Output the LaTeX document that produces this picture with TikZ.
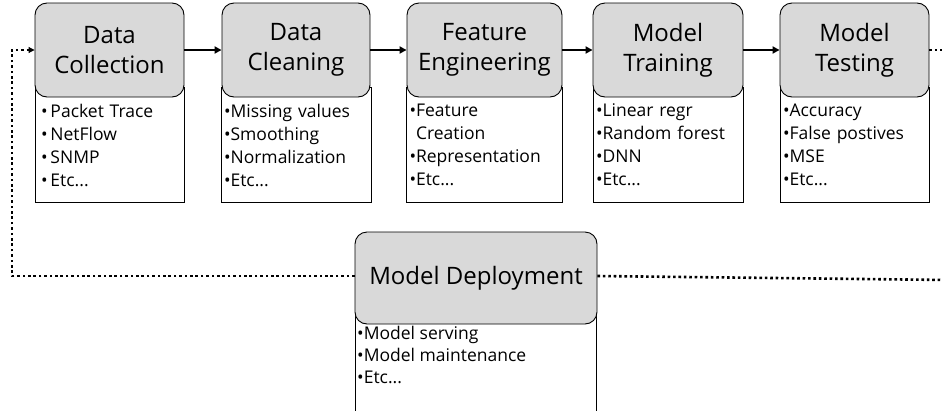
\documentclass[tikz,border=0pt]{standalone}
\usepackage{fontspec}
\setmainfont{Open Sans}
\usetikzlibrary{arrows.meta}
\begin{document}
\begin{tikzpicture}[x=1pt,y=-1pt,
  title/.style={draw=black,line width=0.9pt,fill=gray!30,rounded corners=12pt,
    minimum height=94pt,align=center,inner sep=0pt,
    font=\fontsize{24}{30}\selectfont},
  listbox/.style={draw=black,line width=0.9pt,fill=white,minimum height=115pt,
    inner xsep=3pt,inner ysep=0pt,align=left,
    font=\fontsize{17.5}{23}\selectfont},
  flow/.style={line width=2pt,-{Triangle[length=7pt,width=7pt]}},
  dots/.style={line width=2.6pt,dash pattern=on 2.6pt off 2.8pt}
]
\useasboundingbox (0,0) rectangle (942,410);
\clip (0,0) rectangle (942,410);
% list boxes
\node[listbox,minimum width=149pt,text width=137pt] (l1) at (109.5,145) {•\,Packet Trace\\•\,NetFlow\\•\,SNMP\\•\,Etc...};
\node[listbox,minimum width=148pt,text width=144pt] (l2) at (296,145) {•Missing values\\•Smoothing\\•Normalization\\•Etc...};
\node[listbox,minimum width=155pt,text width=150pt] (l3) at (484.5,145) {•Feature\\\hphantom{•}Creation\\•Representation\\•Etc...};
\node[listbox,minimum width=150pt,text width=144pt] (l4) at (668,145) {•Linear regr\\•Random forest\\•DNN\\•Etc...};
\node[listbox,minimum width=149pt,text width=143pt] (l5) at (854.5,145) {•Accuracy\\•False postives\\•MSE\\•Etc...};
\node[draw=black,line width=0.9pt,fill=white,minimum width=241pt,minimum height=110pt,inner sep=0pt] (l6) at (475.5,370) {};
\node[anchor=north west,align=left,inner sep=0pt,font=\fontsize{17.5}{22}\selectfont] (t6) at (357,326) {•Model serving\\•Model maintenance\\•Etc...};
% title boxes
\node[title,minimum width=149pt] (g1) at (109.5,50) {Data\\Collection};
\node[title,minimum width=148pt] (g2) at (296,50) {Data\\Cleaning};
\node[title,minimum width=155pt] (g3) at (484.5,50) {Feature\\Engineering};
\node[title,minimum width=150pt] (g4) at (668,50) {Model\\Training};
\node[title,minimum width=149pt] (g5) at (854.5,50) {Model\\Testing};
\node[title,minimum width=242pt,minimum height=92pt] (g6) at (476,278) {Model Deployment};
% connectors
\draw[flow] (g1.east) -- (g2.west);
\draw[flow] (g2.east) -- (g3.west);
\draw[flow] (g3.east) -- (g4.west);
\draw[flow] (g4.east) -- (g5.west);
\coordinate (lt) at (12,50);
\coordinate (rt) at (950,50);
\coordinate (rb) at (950,280);
\draw[dots] ([yshift=2pt]g6.west) -| (lt) -- ([xshift=-6pt]g1.west);
\draw[-{Triangle[length=6pt,width=6pt]},line width=1pt] ([xshift=-7pt]g1.west) -- (g1.west);
\draw[dots] (g5.east) -- (rt);
\draw[dots] ([yshift=2pt]g6.east) -- (rb);
\end{tikzpicture}
\end{document}
